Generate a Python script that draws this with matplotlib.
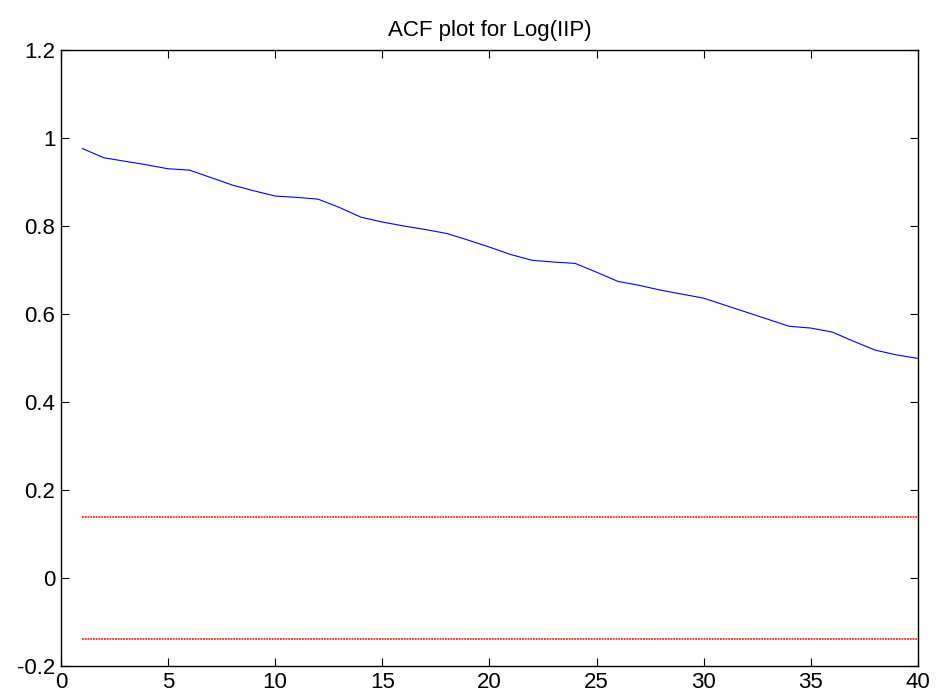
import numpy as np
import matplotlib
matplotlib.use('Agg')
import matplotlib.pyplot as plt

plt.rcParams['font.family'] = ['Liberation Sans', 'DejaVu Sans']

# sample autocorrelation of log(IIP), lags 1..40
lags = list(range(1, 41))
acf = [0.976, 0.955, 0.947, 0.939, 0.930, 0.927, 0.910, 0.893, 0.880, 0.868,
       0.865, 0.861, 0.842, 0.820, 0.809, 0.800, 0.792, 0.783, 0.768, 0.752,
       0.735, 0.722, 0.718, 0.715, 0.695, 0.674, 0.665, 0.654, 0.645, 0.636,
       0.620, 0.604, 0.588, 0.572, 0.568, 0.559, 0.538, 0.518, 0.507, 0.499]
conf_band = 0.1387  # 2/sqrt(N)

yticks = [-0.2, 0, 0.2, 0.4, 0.6, 0.8, 1, 1.2]
ytick_labels = ['-0.2', '0', '0.2', '0.4', '0.6', '0.8', '1', '1.2']
xticks = [0, 5, 10, 15, 20, 25, 30, 35, 40]

fig = plt.figure(figsize=(9.38, 6.97), dpi=100)
ax = fig.add_axes([0.065, 0.0445, 0.9135, 0.8838])

ax.plot(lags, acf, color='blue', lw=0.8)
# confidence bounds, dotted red
for b in (conf_band, -conf_band):
    ax.plot(lags, [b] * len(lags), color='red', ls=(0, (1.2, 0.6)), lw=1.1)

ax.set_xlim(0, 40)
ax.set_ylim(-0.2, 1.2)
ax.set_xticks(xticks)
ax.set_yticks(yticks)
ax.set_yticklabels(ytick_labels)
ax.tick_params(direction='in', top=True, right=True, length=6, width=0.8,
               labelsize=16, pad=4)
for s in ax.spines.values():
    s.set_linewidth(1.0)

ax.set_title('ACF plot for Log(IIP)', fontsize=16, pad=10)

fig.savefig('out.png', dpi=100)
